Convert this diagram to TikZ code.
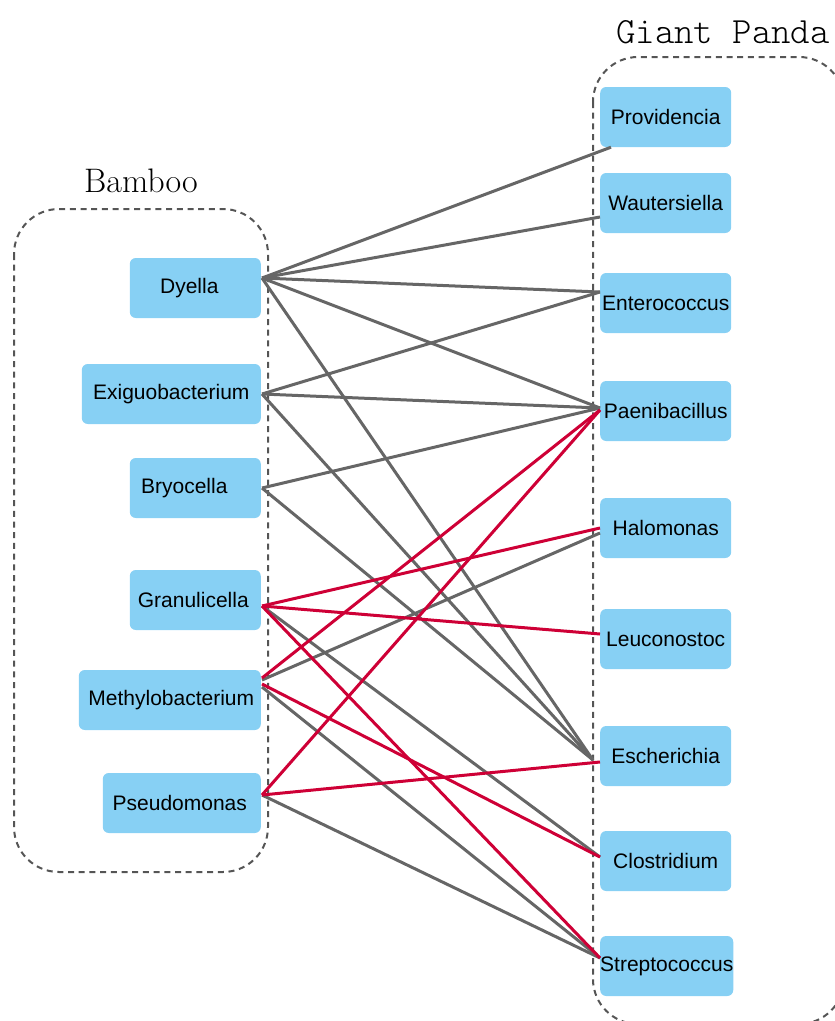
\documentclass[tikz,border=0pt]{standalone}
\usepackage{fontspec}
\newfontfamily\labelfont{Liberation Sans}
\newfontfamily\lightmono{lmmonolt10-regular.otf}
\usetikzlibrary{calc}
\definecolor{boxblue}{RGB}{135,208,244}
\definecolor{edgegray}{RGB}{102,102,102}
\definecolor{edgered}{RGB}{206,0,54}
\definecolor{dashgray}{RGB}{85,85,85}
\tikzset{
  taxon/.style={fill=boxblue, rounded corners=6pt, minimum height=60pt, inner sep=0pt,
    font=\labelfont\fontsize{21}{25}\selectfont, text=black},
  grp/.style={draw=dashgray, line width=2pt, dash pattern=on 6pt off 4.7pt, rounded corners=45pt},
  gedge/.style={draw=edgegray, line width=3pt},
  redge/.style={draw=edgered, line width=3pt},
  grptitle/.style={anchor=base, inner sep=0pt}
}
\begin{document}
\begin{tikzpicture}[x=1pt,y=-1pt]
\useasboundingbox (0,0) rectangle (835,1021);
\clip (0,0) rectangle (835,1021);
% group frames
\draw[grp] (14,209) rectangle (268,872);
\draw[grp] (593,57) rectangle (844,1024);
\node[grptitle, font=\rmfamily\fontsize{34}{38}\selectfont] (tb) at (141,192) {Bamboo};
\node[grptitle, font=\lightmono\fontsize{37}{40}\selectfont] (tg) at (723,43) {Giant Panda};
% left nodes
\node[taxon, minimum width=131pt, anchor=east] (dy) at (261,288) {Dyella\hspace*{12pt}};
\node[taxon, minimum width=179pt, anchor=east] (ex) at (261,394) {Exiguobacterium};
\node[taxon, minimum width=131pt, anchor=east] (br) at (261,488) {Bryocella\hspace*{22pt}};
\node[taxon, minimum width=131pt, anchor=east] (gr) at (261,600) {Granulicella\hspace*{4pt}};
\node[taxon, minimum width=182pt, anchor=east] (me) at (261,700) {\hspace*{3pt}Methylobacterium};
\node[taxon, minimum width=158pt, anchor=east] (ps) at (261,803) {Pseudomonas\hspace*{4pt}};
% right nodes
\node[taxon, minimum width=131pt, anchor=west] (pr) at (600,117) {Providencia};
\node[taxon, minimum width=131pt, anchor=west] (wa) at (600,203) {Wautersiella};
\node[taxon, minimum width=131pt, anchor=west] (en) at (600,303) {Enterococcus};
\node[taxon, minimum width=131pt, anchor=west] (pa) at (600,411) {Paenibacillus};
\node[taxon, minimum width=131pt, anchor=west] (ha) at (600,528) {Halomonas};
\node[taxon, minimum width=131pt, anchor=west] (le) at (600,639) {Leuconostoc};
\node[taxon, minimum width=131pt, anchor=west] (es) at (600,756) {Escherichia};
\node[taxon, minimum width=131pt, anchor=west] (cl) at (600,861) {Clostridium};
\node[taxon, minimum width=131pt, anchor=west] (st) at (600,966) {Streptococcus};
% ports
\coordinate (dyP) at ($(dy.east)+(1,-10)$);
\coordinate (exP) at ($(ex.east)+(1,0)$);
\coordinate (brP) at ($(br.east)+(1,0)$);
\coordinate (grP) at ($(gr.east)+(1,6)$);
\coordinate (meA) at ($(me.east)+(1,-22)$);
\coordinate (meB) at ($(me.east)+(1,-20)$);
\coordinate (meC) at ($(me.east)+(1,-16)$);
\coordinate (meD) at ($(me.east)+(1,-13)$);
\coordinate (psP) at ($(ps.east)+(1,-8)$);
\coordinate (prP) at ($(pr.south west)+(11,0)$);
\coordinate (waP) at ($(wa.west)+(0,14)$);
\coordinate (enP) at ($(en.west)+(0,-11)$);
\coordinate (paG) at ($(pa.west)+(0,-3)$);
\coordinate (paR) at ($(pa.west)+(0,-1)$);
\coordinate (haR) at ($(ha.west)+(0,0)$);
\coordinate (haG) at ($(ha.west)+(0,5)$);
\coordinate (leP) at ($(le.west)+(0,-5)$);
\coordinate (esG) at ($(es.west)+(-7,4)$);
\coordinate (esR) at ($(es.west)+(0,6)$);
\coordinate (clP) at ($(cl.west)+(0,-4)$);
\coordinate (stP) at ($(st.west)+(0,-8)$);
% gray connectors
\draw[gedge] (dyP) -- (prP);
\draw[gedge] (dyP) -- (waP);
\draw[gedge] (dyP) -- (enP);
\draw[gedge] (dyP) -- (paG);
\draw[gedge] (dyP) -- (esG);
\draw[gedge] (exP) -- (enP);
\draw[gedge] (exP) -- (paG);
\draw[gedge] (exP) -- (esG);
\draw[gedge] (brP) -- (paG);
\draw[gedge] (brP) -- (esG);
\draw[gedge] (grP) -- (clP);
\draw[gedge] (meB) -- (haG);
\draw[gedge] (meD) -- (stP);
\draw[gedge] (psP) -- (stP);
% red connectors
\draw[redge] (grP) -- (haR);
\draw[redge] (grP) -- (leP);
\draw[redge] (grP) -- (stP);
\draw[redge] (meA) -- (paR);
\draw[redge] (meC) -- (clP);
\draw[redge] (psP) -- (paR);
\draw[redge] (psP) -- (esR);
\end{tikzpicture}
\end{document}
